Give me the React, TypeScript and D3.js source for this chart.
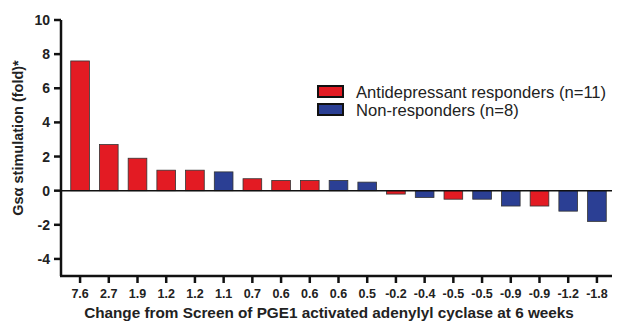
import React from "react";
import * as d3 from "d3";

const labels = ["7.6","2.7","1.9","1.2","1.2","1.1","0.7","0.6","0.6","0.6","0.5","-0.2","-0.4","-0.5","-0.5","-0.9","-0.9","-1.2","-1.8"];
const values = [7.6,2.7,1.9,1.2,1.2,1.1,0.7,0.6,0.6,0.6,0.5,-0.2,-0.4,-0.5,-0.5,-0.9,-0.9,-1.2,-1.8];
const groups = ["R","R","R","R","R","N","R","R","R","N","N","R","N","R","N","N","R","N","N"];
const yTicks = [-4,-2,0,2,4,6,8,10];
const legendItems = [
  { key: "R", label: "Antidepressant responders (n=11)" },
  { key: "N", label: "Non-responders (n=8)" },
];
const colors: Record<string, string> = { R: "#e31b23", N: "#2b3f94" };

export default function App() {
  const W = 618, H = 323;
  const left = 61, right = 612, top = 20, bottom = 276;
  const y = d3.scaleLinear().domain([-5, 10]).range([bottom, top]);
  const x = d3.scaleBand<number>().domain(values.map((_, i) => i)).range([left + 4, right]).paddingInner(0.35).paddingOuter(0.2);
  const font = "'Liberation Sans', Arial, sans-serif";
  return (
    <svg width={W} height={H} style={{ position: "absolute", left: 0, top: 0, background: "#fff" }} fontFamily={font}>
      {values.map((v, i) => (
        <rect key={i} x={x(i)} width={x.bandwidth()} y={y(Math.max(0, v))} height={Math.abs(y(v) - y(0))}
          fill={colors[groups[i]]} stroke="#333" strokeWidth={0.8} />
      ))}
      <line x1={left} x2={right} y1={y(0)} y2={y(0)} stroke="#111" strokeWidth={1.5} />
      {/* y axis */}
      <line x1={left} x2={left} y1={y(10)} y2={bottom} stroke="#111" strokeWidth={2.5} />
      {yTicks.map(t => (
        <g key={t}>
          <line x1={left - 7} x2={left} y1={y(t)} y2={y(t)} stroke="#111" strokeWidth={2.5} />
          <text x={left - 11} y={y(t)} dy="0.36em" textAnchor="end" fontSize={14} fontWeight="bold" fill="#222">{t}</text>
        </g>
      ))}
      {/* x axis */}
      <line x1={left - 1} x2={right} y1={bottom} y2={bottom} stroke="#111" strokeWidth={2.5} />
      {values.map((_, i) => {
        const cx = x(i)! + x.bandwidth() / 2;
        return (
          <g key={i}>
            <line x1={cx} x2={cx} y1={bottom} y2={bottom + 7} stroke="#111" strokeWidth={2.5} />
            <text x={cx} y={bottom + 22} textAnchor="middle" fontSize={12.5} fontWeight="bold" fill="#222">{labels[i]}</text>
          </g>
        );
      })}
      <text x={329} y={318} textAnchor="middle" fontSize={15.3} fontWeight="bold" fill="#222">
        Change from Screen of PGE1 activated adenylyl cyclase at 6 weeks
      </text>
      <text transform={`translate(23, ${(top + bottom) / 2 - 10}) rotate(-90)`} textAnchor="middle" fontSize={14.5} fontWeight="bold" fill="#222">
        Gs<tspan>α</tspan> stimulation (fold)*
      </text>
      {legendItems.map((d, i) => (
        <g key={d.key} transform={`translate(318, ${86 + i * 18})`}>
          <rect x={0} y={0} width={25} height={11} fill={colors[d.key]} stroke="#111" strokeWidth={2} />
          <text x={38} y={6} dy="0.35em" fontSize={16.6} fill="#222">{d.label}</text>
        </g>
      ))}
    </svg>
  );
}
